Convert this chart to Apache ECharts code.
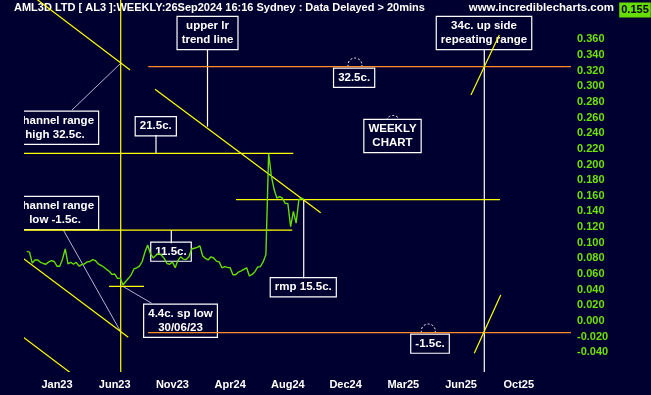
<!DOCTYPE html>
<html>
<head>
<meta charset="utf-8">
<script src="https://cdn.jsdelivr.net/npm/echarts@6/dist/echarts.min.js"></script>
<style>html,body{margin:0;padding:0;background:#000030;}#c{width:651px;height:395px;}</style>
</head>
<body>
<div id="c"></div>
<script>
// ---- data (x = week index, y = price in $) ----
const xTickWeeks = [12, 33, 54, 75, 96, 117, 138, 159, 180];
const xTickLabels = ['Jan23', 'Jun23', 'Nov23', 'Apr24', 'Aug24', 'Dec24', 'Mar25', 'Jun25', 'Oct25'];
const yTickValues = [-0.04, -0.02, 0, 0.02, 0.04, 0.06, 0.08, 0.10, 0.12, 0.14, 0.16, 0.18, 0.20, 0.22, 0.24, 0.26, 0.28, 0.30, 0.32, 0.34, 0.36];
const priceStartWeek = 1;
const weeklyClose = [
  0.089, 0.088, 0.074, 0.078, 0.078, 0.075, 0.0735, 0.0725, 0.0755, 0.077,
  0.076, 0.070, 0.070, 0.079, 0.092, 0.073, 0.075, 0.0725, 0.075, 0.070,
  0.072, 0.073, 0.0755, 0.076, 0.0785, 0.077, 0.073, 0.071, 0.069, 0.066,
  0.0635, 0.0595, 0.060, 0.0545, 0.0545, 0.046, 0.0505, 0.0545, 0.059, 0.0665,
  0.068, 0.070, 0.076, 0.088, 0.097, 0.086, 0.0805, 0.084, 0.086, 0.084,
  0.080, 0.0735, 0.0725, 0.0755, 0.068, 0.0775, 0.082, 0.079, 0.0785, 0.082,
  0.092, 0.093, 0.094, 0.096, 0.083, 0.080, 0.078, 0.082, 0.0805, 0.0765,
  0.0755, 0.068, 0.0695, 0.0685, 0.068, 0.059, 0.059, 0.0625, 0.064, 0.066,
  0.068, 0.0575, 0.0595, 0.063, 0.069, 0.0695, 0.0755, 0.085, 0.214, 0.185,
  0.168, 0.157, 0.159, 0.157, 0.1505, 0.150, 0.1205, 0.140, 0.125, 0.155,
  0.157, 0.155
];
// annotation segments [week1, price1, week2, price2]
const yellowLines = [
  [2.6, 0.4166, 38.6, 0.3207],
  [35.18, -0.08, 35.18, 0.43],
  [-5, 0.2143, 97.97, 0.2143],
  [47.66, 0.2961, 107.94, 0.1384],
  [77.13, 0.155, 173.17, 0.155],
  [-5, 0.116, 97.6, 0.116],
  [-5.09, 0.0926, 37.94, -0.0208],
  [-5.09, -0.0078, 18.55, -0.0706],
  [30.92, 0.0443, 43.66, 0.0443],
  [162.6, 0.2888, 172.9, 0.3655],
  [163.82, -0.0413, 173.43, 0.0332]
];
const orangeLines = [
  [45.22, 0.325, 210, 0.325],
  [45.1, -0.015, 210, -0.015]
];
const whiteLines = [
  [167.46, 0.3472, 167.46, -0.08],
  [66.76, 0.3472, 66.76, 0.2483],
  [48.02, 0.2377, 48.02, 0.2143],
  [53.59, 0.116, 53.59, 0.0993],
  [101.76, 0.1559, 101.76, 0.0545]
];
const greyLines = [
  [17.46, 0.2696, 35.18, 0.3293],
  [14.3, 0.1163, 35.18, -0.0137],
  [35.76, 0.0447, 46.46, 0.0226]
];
const noteTexts = [
  'channel range\nhigh 32.5c.',
  'channel range\nlow -1.5c.',
  '21.5c.',
  'upper lr\ntrend line',
  '11.5c.',
  '4.4c. sp low\n30/06/23',
  'rmp 15.5c.',
  '32.5c.',
  'WEEKLY\nCHART',
  '34c. up side\nrepeating range',
  '-1.5c.'
];
const notePositions = [
  [11.3, 0.247], [11.3, 0.138], [47.94, 0.2489], [66.76, 0.368], [53.48, 0.0886],
  [56.94, 0.0002], [101.6, 0.0432], [120.1, 0.3109], [134.06, 0.2364], [167.35, 0.368], [147.71, -0.029]
];
const anchorPoints = [[120.4, 0.3271], [134.24, 0.2537], [147.09, -0.0128]];
const titleText = 'AML3D LTD [ AL3 ]:WEEKLY:26Sep2024 16:16 Sydney : Data Delayed > 20mins';
const siteText = 'www.incrediblecharts.com';
const lastPrice = '0.155';

// ---- chart ----
const BG = '#000030';
const FONT = 'bold 11.5px "Liberation Sans", Arial, sans-serif';
const chart = echarts.init(document.getElementById('c'));

function lineSeries(data, color, width, z) {
  return {
    type: 'custom', clip: true, z: z, silent: true,
    encode: { x: [0, 2], y: [1, 3] },
    data: data,
    renderItem: function (params, api) {
      const a = api.coord([api.value(0), api.value(1)]);
      const b = api.coord([api.value(2), api.value(3)]);
      return { type: 'line', shape: { x1: a[0], y1: a[1], x2: b[0], y2: b[1] },
        style: { stroke: color, lineWidth: width } };
    }
  };
}

const priceData = weeklyClose.map((v, i) => [priceStartWeek + i, v]);

chart.setOption({
  backgroundColor: BG,
  animation: false,
  grid: { left: 24, right: 80, top: 0, bottom: 23 },
  xAxis: {
    type: 'value', min: 0, max: 199,
    axisLine: { show: false }, axisTick: { show: false }, splitLine: { show: false },
    axisLabel: {
      customValues: xTickWeeks,
      formatter: function (v) { const i = xTickWeeks.indexOf(Math.round(v)); return i >= 0 ? xTickLabels[i] : ''; },
      color: '#ffffff', fontWeight: 'bold', fontSize: 11, fontFamily: 'Liberation Sans', margin: 7
    }
  },
  yAxis: {
    type: 'value', position: 'right', min: -0.0652, max: 0.4102,
    axisLine: { show: false }, axisTick: { show: false }, splitLine: { show: false },
    axisLabel: {
      customValues: yTickValues,
      formatter: function (v) { return v.toFixed(3); },
      color: '#6fe000', fontWeight: 'bold', fontSize: 11, fontFamily: 'Liberation Sans', margin: 6
    }
  },
  graphic: [
    { type: 'text', x: 14, y: 2, style: { text: titleText, fill: '#ffffff', font: 'bold 11px "Liberation Sans", Arial, sans-serif' } },
    { type: 'text', x: 614, y: 2, style: { text: siteText, fill: '#ffffff', font: FONT, align: 'right' } },
    { type: 'text', x: 635, y: 10, style: { text: lastPrice, fill: '#000000', font: 'bold 11px "Liberation Sans", Arial', align: 'center', verticalAlign: 'middle', backgroundColor: '#66dd00', padding: [2, 2] } }
  ],
  series: [
    {
      type: 'custom', clip: true, z: 2, silent: true,
      data: anchorPoints,
      renderItem: function (params, api) {
        const p = api.coord([api.value(0), api.value(1)]);
        return { type: 'circle', shape: { cx: p[0], cy: p[1], r: 7 },
          style: { fill: 'none', stroke: '#ffffff', lineWidth: 1, lineDash: [2, 2] } };
      }
    },
    {
      type: 'custom', clip: true, z: 3, silent: true,
      data: notePositions,
      renderItem: function (params, api) {
        const p = api.coord([api.value(0), api.value(1)]);
        return { type: 'text', x: p[0], y: p[1],
          style: { text: noteTexts[params.dataIndex], fill: '#ffffff', font: FONT, align: 'center', verticalAlign: 'middle',
            lineHeight: 14, backgroundColor: BG, borderColor: '#ffffff', borderWidth: 1.2, padding: [2, 4] } };
      }
    },
    lineSeries(greyLines, '#b4b4d6', 1, 4),
    lineSeries(whiteLines, '#ffffff', 1.2, 4),
    lineSeries(orangeLines, '#ff8c28', 1.3, 5),
    lineSeries(yellowLines, '#ffff00', 1.2, 5),
    {
      type: 'line', z: 6, data: priceData, showSymbol: false, clip: true,
      lineStyle: { color: '#66dd00', width: 1.4 }, silent: true
    }
  ]
});
</script>
</body>
</html>
